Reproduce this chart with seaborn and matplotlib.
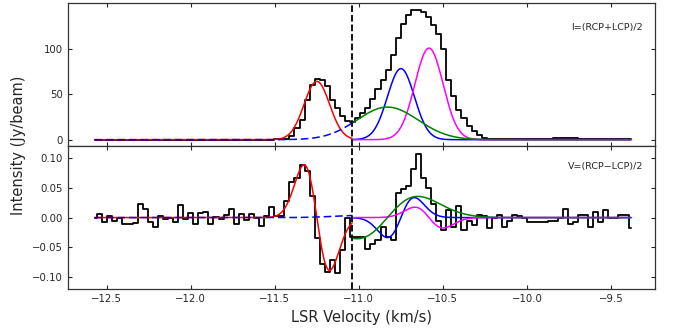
import numpy as np
import matplotlib
matplotlib.use("Agg")
import matplotlib.pyplot as plt
import seaborn as sns

# channel grid of the spectrum
v_start = -12.572
dv = 0.0301
v_split = -11.04   # boundary between the two fitted ranges

# Stokes I spectrum (Jy/beam), one value per channel
stokes_i = [
    0.0, 0.0, 0.0, 0.0, 0.0, 0.0, 0.0, 0.0, 0.0, 0.0,
    0.0, 0.0, 0.0, 0.0, 0.0, 0.0, 0.0, 0.0, 0.0, 0.0,
    0.0, 0.0, 0.0, 0.0, 0.0, 0.0, 0.0, 0.0, 0.0, 0.0,
    0.0, 0.0, 0.0, 0.0, 0.0, 0.0, 0.3, 0.6, 1.2, 4.4,
    12.7, 22.0, 44.0, 60.0, 66.5, 65.0, 59.0, 44.0, 35.0, 26.5,
    20.0, 19.5, 24.0, 29.0, 35.0, 45.0, 56.0, 66.0, 76.0, 93.0,
    112.0, 127.0, 137.0, 142.0, 142.5, 140.0, 135.0, 126.0, 116.0, 100.0,
    66.0, 47.5, 33.0, 24.0, 15.5, 9.5, 4.7, 2.2, 1.2, 0.8,
    0.5, 0.4, 0.3, 0.3, 0.3, 0.4, 0.5, 0.6, 0.8, 1.0,
    1.1, 1.3, 1.4, 1.5, 1.5, 1.4, 1.2, 1.0, 0.8, 0.6,
    0.5, 0.4, 0.3, 0.3, 0.3, 0.3, 0.3,
]

# Stokes V spectrum (Jy/beam)
stokes_v = [
    0.0, 0.006, -0.007, 0.003, -0.006, 0.0, -0.011, -0.011, -0.009, 0.023,
    0.015, -0.007, -0.016, 0.003, -0.003, 0.0, -0.008, 0.021, -0.002, 0.007,
    -0.010, 0.007, 0.010, -0.010, 0.001, -0.002, 0.004, 0.014, -0.011, 0.0056,
    -0.0045, 0.0056, 0.0, -0.014, 0.003, 0.018, 0.003, 0.003, 0.028, 0.059,
    0.066, 0.088, 0.078, 0.036, -0.034, -0.078, -0.092, -0.072, -0.093, -0.054,
    0.0, -0.032, -0.032, -0.033, -0.052, -0.045, -0.038, -0.015, -0.032, -0.038,
    0.042, 0.048, 0.053, 0.081, 0.107, 0.067, 0.050, 0.022, -0.005, -0.020,
    0.012, -0.016, 0.020, -0.020, -0.005, -0.012, 0.004, 0.003, -0.018, 0.0,
    0.005, -0.016, -0.006, 0.004, 0.002, 0.0, -0.008, -0.007, -0.007, -0.007,
    -0.006, -0.005, -0.001, 0.014, -0.011, -0.008, 0.005, 0.004, -0.015, 0.010,
    -0.007, 0.013, 0.0, 0.0, 0.004, 0.004, -0.017,
]

# Gaussian components: amplitude (Jy/beam), centre (km/s), sigma (km/s),
# and Zeeman coefficient b (V = b * dI/dv)
red_fit = dict(amp=64.0, cen=-11.25, sig=0.076, b=1.733e-4)
green_fit = dict(amp=35.8, cen=-10.83, sig=0.181, b=-2.96e-4)
green_left_b = 3.0e-5
blue_fit = dict(amp=78.0, cen=-10.75, sig=0.080, b=-5.67e-5)
magenta_fit = dict(amp=100.5, cen=-10.583, sig=0.084, b=2.4e-5)


def gauss(v, amp, cen, sig, **kw):
    return amp * np.exp(-0.5 * ((v - cen) / sig) ** 2)


def dgauss(v, amp, cen, sig, **kw):
    return -(v - cen) / sig ** 2 * gauss(v, amp, cen, sig)


vel = v_start + dv * np.arange(len(stokes_i))
v_left = np.linspace(vel[0], v_split, 400)
v_right = np.linspace(v_split, vel[-1], 600)

sns.set_style("ticks", {"xtick.direction": "in", "ytick.direction": "in"})
plt.rcParams["font.family"] = ["DejaVu Sans"]

fig, (ax1, ax2) = plt.subplots(2, 1, sharex=True, figsize=(6.73, 3.35), dpi=100)
fig.subplots_adjust(left=0.101, right=0.973, top=0.991, bottom=0.137, hspace=0)

# ---- Stokes I ----
sns.lineplot(x=vel, y=stokes_i, ax=ax1, color="black", lw=1.3, drawstyle="steps-mid")
sns.lineplot(x=v_left, y=gauss(v_left, **red_fit), ax=ax1, color="red", lw=1.1)
sns.lineplot(x=v_left, y=gauss(v_left, **green_fit), ax=ax1, color="blue", lw=1.1,
             linestyle=(0, (5, 2.5)))
sns.lineplot(x=v_right, y=gauss(v_right, **blue_fit), ax=ax1, color="blue", lw=1.1)
sns.lineplot(x=v_right, y=gauss(v_right, **magenta_fit), ax=ax1, color="magenta", lw=1.1)
sns.lineplot(x=v_right, y=gauss(v_right, **green_fit), ax=ax1, color="green", lw=1.1)
ax1.axvline(v_split, color="black", ls="--", lw=1.3)
ax1.set_ylim(-7, 150)
ax1.set_yticks([0, 50, 100])
ax1.text(0.98, 0.83, "I=(RCP+LCP)/2", transform=ax1.transAxes, ha="right",
         va="center", fontsize=6.8)

# ---- Stokes V ----
sns.lineplot(x=vel, y=stokes_v, ax=ax2, color="black", lw=1.3, drawstyle="steps-mid")
sns.lineplot(x=v_left, y=red_fit["b"] * dgauss(v_left, **red_fit), ax=ax2,
             color="red", lw=1.1)
sns.lineplot(x=v_left, y=green_left_b * dgauss(v_left, **green_fit), ax=ax2,
             color="blue", lw=1.1, linestyle=(0, (5, 2.5)))
sns.lineplot(x=v_right, y=blue_fit["b"] * dgauss(v_right, **blue_fit), ax=ax2,
             color="blue", lw=1.1)
sns.lineplot(x=v_right, y=magenta_fit["b"] * dgauss(v_right, **magenta_fit), ax=ax2,
             color="magenta", lw=1.1)
sns.lineplot(x=v_right, y=green_fit["b"] * dgauss(v_right, **green_fit), ax=ax2,
             color="green", lw=1.1)
ax2.axvline(v_split, color="black", ls="--", lw=1.3)
ax2.set_ylim(-0.12, 0.12)
ax2.set_yticks([-0.10, -0.05, 0.0, 0.05, 0.10])
ax2.text(0.98, 0.86, "V=(RCP\u2212LCP)/2", transform=ax2.transAxes, ha="right",
         va="center", fontsize=6.8)

ax2.set_xlim(-12.73, -9.24)
ax2.set_xticks(np.arange(-12.5, -9.4, 0.5))
ax2.set_xlabel("LSR Velocity (km/s)", fontsize=10.5)
ax1.set_ylabel("")
ax2.set_ylabel("")
fig.text(0.027, 0.567, "Intensity (Jy/beam)", rotation=90, ha="center",
         va="center", fontsize=10.5)

for ax in (ax1, ax2):
    ax.tick_params(axis="both", which="both", top=True, right=True,
                   labelsize=7.3, length=3, width=0.8, direction="in")
    for sp in ax.spines.values():
        sp.set_color("#333333")
        sp.set_linewidth(0.9)

fig.savefig("out.png", dpi=100)
